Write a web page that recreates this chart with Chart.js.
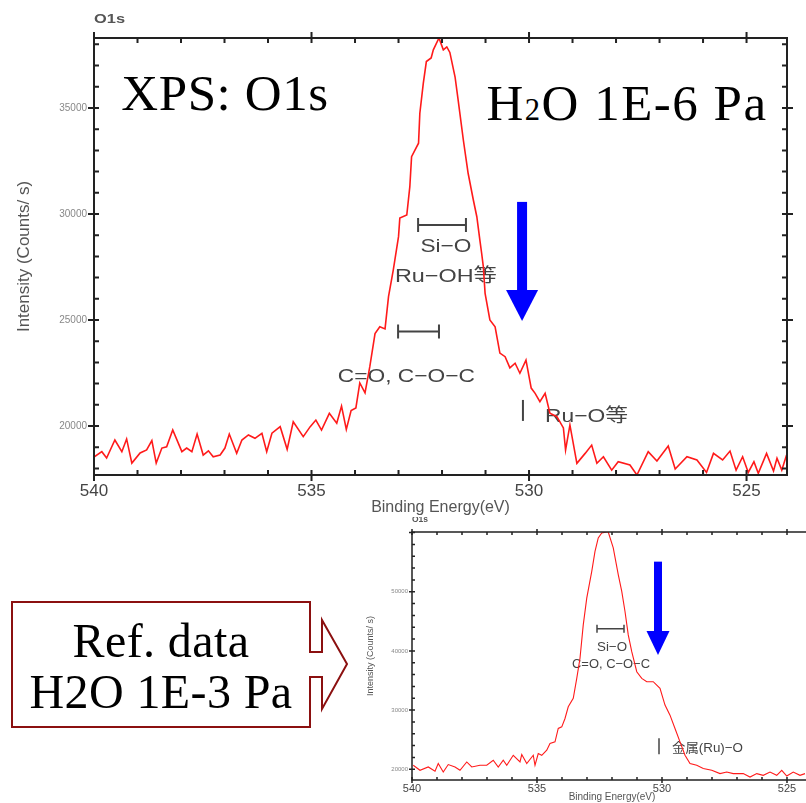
<!DOCTYPE html>
<html lang="ja">
<head>
<meta charset="UTF-8">
<title>XPS: O1s</title>
<script src="https://cdn.jsdelivr.net/npm/chart.js"></script>
<style>
  body {
    margin: 0;
    width: 806px;
    height: 803px;
    overflow: hidden;
    position: relative;
    background: #fff;
  }
  canvas { position: absolute; }
  #mainChart { left: 0; top: 0; }
  #refChart { left: 355px; top: 517px; }
  .tag {
    position: absolute;
    background: #fff;
    font-family: "Liberation Serif", "DejaVu Serif", serif;
    font-size: 51px;
    line-height: 66px;
    height: 62px;
    text-align: center;
    color: #000;
    white-space: nowrap;
  }
  .tag small { font-size: 0.6em; }
  #callout {
    position: absolute;
    left: 0; top: 0;
  }
  #calloutText {
    position: absolute;
    left: 12px; top: 615px; width: 298px;
    text-align: center;
    font-family: "Liberation Serif", "DejaVu Serif", serif;
    font-size: 48px;
    line-height: 51px;
    letter-spacing: 0.4px;
    color: #000;
  }
</style>
</head>
<body>

<canvas id="mainChart" width="806" height="520"></canvas>
<canvas id="refChart" width="465" height="286"></canvas>

<div class="tag" style="left:117px; top:60px; width:216px; letter-spacing:0.6px;">XPS: O1s</div>
<div class="tag" style="left:482px; top:70px; width:290px; letter-spacing:1.5px;">H<small>2</small>O 1E-6 Pa</div>

<svg id="callout" width="806" height="803">
  <polygon points="12,602 310,602 310,652 322,652 322,620 347,664 322,709 322,677 310,677 310,727 12,727"
           fill="#fff" stroke="#8b1010" stroke-width="2"/>
</svg>
<div id="calloutText">Ref. data<br>H2O 1E-3 Pa</div>

<script>
  // main spectrum, H2O 1E-6 Pa
  const mainEnergy = [
    540.0, 539.82, 539.71, 539.52, 539.36, 539.25, 539.13, 538.94, 538.79, 538.67,
    538.57, 538.44, 538.33, 538.19, 537.98, 537.87, 537.75, 537.63, 537.49, 537.37,
    537.26, 537.10, 536.99, 536.89, 536.72, 536.60, 536.45, 536.30, 536.14, 536.03,
    535.91, 535.72, 535.56, 535.42, 535.19, 535.03, 534.90, 534.77, 534.59, 534.42,
    534.31, 534.20, 534.09, 533.98, 533.89, 533.77, 533.66, 533.54, 533.43, 533.31,
    533.23, 533.12, 533.00, 532.97, 532.81, 532.74, 532.70, 532.54, 532.51, 532.43,
    532.36, 532.25, 532.20, 532.07, 531.97, 531.89, 531.82, 531.70, 531.63, 531.51,
    531.40, 531.28, 531.20, 531.13, 531.09, 531.05, 531.01, 530.90, 530.78, 530.67,
    530.55, 530.44, 530.32, 530.21, 530.07, 529.95, 529.86, 529.75, 529.63, 529.52,
    529.36, 529.21, 529.16, 529.06, 528.90, 528.71, 528.56, 528.44, 528.29, 528.10,
    527.95, 527.68, 527.52, 527.26, 527.06, 526.80, 526.64, 526.37, 526.14, 525.92,
    525.76, 525.55, 525.38, 525.24, 525.09, 524.96, 524.83, 524.73, 524.54, 524.38,
    524.30, 524.19, 524.08
  ];
  const mainCounts = [
    18540, 18790, 18490, 19340, 18790, 19390, 18250, 18730, 18870, 19310,
    18250, 18960, 19020, 19810, 18790, 18960, 18790, 19620, 18630, 18830,
    18550, 18630, 18960, 19620, 18710, 19340, 19580, 19420, 19660, 18790,
    19660, 19970, 18900, 20200, 19500, 19970, 20280, 19810, 20600, 20130,
    20940, 19840, 20730, 20850, 22030, 21560, 22800, 24360, 24680, 24580,
    26100, 27360, 28930, 29810, 29950, 31290, 32700, 33340, 34750, 36170,
    37190, 37360, 37740, 38300, 37740, 37880, 37620, 36460, 35380, 33490,
    31920, 30660, 29870, 28770, 28160, 27510, 26260, 25000, 24680, 23440,
    23270, 22740, 22960, 22490, 23110, 21790, 21540, 21150, 21540, 20600,
    20440, 19910, 18870, 20050, 18240, 18710, 19100, 18240, 18550, 17920,
    18320, 18160, 17690, 18790, 18350, 19060, 17970, 18550, 18400, 17810,
    18710, 18400, 18820, 17920, 18550, 17810, 18320, 17770, 18710, 17880,
    18480, 17920, 18630
  ];

  // reference spectrum, H2O 1E-3 Pa
  const refEnergy = [
    539.95, 539.68, 539.35, 539.08, 538.95, 538.75, 538.55, 538.28, 538.08, 537.81,
    537.61, 537.28, 537.01, 536.75, 536.55, 536.35, 536.21, 535.95, 535.68, 535.61,
    535.41, 535.15, 535.08, 534.95, 534.81, 534.61, 534.48, 534.28, 534.15, 534.01,
    533.88, 533.75, 533.55, 533.41, 533.28, 533.15, 533.01, 532.81, 532.68, 532.55,
    532.41, 532.21, 532.15, 531.95, 531.75, 531.61, 531.48, 531.35, 531.21, 531.01,
    530.81, 530.61, 530.35, 530.08, 529.88, 529.68, 529.48, 529.28, 529.08, 528.88,
    528.61, 528.35, 528.01, 527.68, 527.41, 527.15, 526.75, 526.48, 526.21, 525.95,
    525.68, 525.41, 525.21, 525.01, 524.75, 524.48, 524.28
  ];
  const refCounts = [
    20680, 19830, 20390, 19660, 20970, 19540, 20800, 20390, 19830, 21240,
    20390, 20680, 20680, 21530, 20390, 21530, 20680, 22370, 21240, 22490,
    20970, 22370, 20680, 22660, 22370, 23220, 24360, 24630, 26900, 27170,
    28590, 30560, 31980, 35370, 38760, 44410, 48930, 53440, 56830, 59100,
    59950, 60100, 60100, 57410, 52880, 50050, 46660, 42710, 39880, 36490,
    35370, 34800, 34800, 33680, 30850, 29150, 26900, 24630, 22370, 20970,
    20680, 20120, 19830, 19270, 19540, 19270, 19270, 18690, 19270, 18980,
    19540, 18980, 19830, 18860, 19540, 18980, 19270
  ];

  // tick labels
  const energyTicks = [540, 535, 530, 525];
  const mainCountTicks = [20000, 25000, 30000, 35000];
  const refCountTicks = [20000, 30000, 40000, 50000];

  // peak assignments (energy, counts)
  const mainBrackets = [
    { from: 532.55, to: 531.45, at: 29480 },
    { from: 533.01, to: 532.07, at: 24460 }
  ];
  const mainBars = [{ at: 530.14, from: 20240, to: 21230 }];
  const mainLabels = [
    { text: 'Si\u2212O', x: 531.91, y: 28210, width: 51, align: 'center' },
    { text: 'Ru\u2212OH等', x: 531.91, y: 26790, width: 102, align: 'center' },
    { text: 'C=O, C\u2212O\u2212C', x: 532.82, y: 22075, width: 137, align: 'center' },
    { text: 'Ru\u2212O等', x: 529.63, y: 20190, width: 83, align: 'left' }
  ];
  const mainArrow = { x: 530.16, top: 30570, neck: 26415, tip: 24950 };

  const refBrackets = [{ from: 532.6, to: 531.52, at: 43730 }];
  const refBars = [{ at: 530.12, from: 22540, to: 25255 }];
  const refLabels = [
    { text: 'Si\u2212O', x: 532.0, y: 40000, width: 30, align: 'center' },
    { text: 'C=O, C\u2212O\u2212C', x: 532.04, y: 37120, width: 78, align: 'center' },
    { text: '金属(Ru)\u2212O', x: 529.6, y: 22880, width: 71, align: 'left' }
  ];
  const refArrow = { x: 530.16, top: 55090, neck: 43390, tip: 39320 };

  const sans = '"Liberation Sans", "Noto Sans CJK JP", sans-serif';

  // annotations, box frame with minor ticks, corner title
  function decor(o) {
    return {
      id: 'decor',
      beforeDatasetsDraw(chart) {
        const ctx = chart.ctx, xs = chart.scales.x, ys = chart.scales.y;
        ctx.save();
        ctx.strokeStyle = '#444';
        ctx.fillStyle = '#444';
        ctx.lineWidth = o.markWidth;
        o.brackets.forEach(b => {
          const x1 = xs.getPixelForValue(b.from), x2 = xs.getPixelForValue(b.to);
          const y = ys.getPixelForValue(b.at);
          ctx.beginPath();
          ctx.moveTo(x1, y); ctx.lineTo(x2, y);
          ctx.moveTo(x1, y - o.cap); ctx.lineTo(x1, y + o.cap);
          ctx.moveTo(x2, y - o.cap); ctx.lineTo(x2, y + o.cap);
          ctx.stroke();
        });
        o.bars.forEach(b => {
          const x = xs.getPixelForValue(b.at);
          ctx.beginPath();
          ctx.moveTo(x, ys.getPixelForValue(b.from));
          ctx.lineTo(x, ys.getPixelForValue(b.to));
          ctx.stroke();
        });
        ctx.font = o.font;
        ctx.textBaseline = 'alphabetic';
        ctx.textAlign = 'left';
        o.labels.forEach(t => {
          const w = ctx.measureText(t.text).width;
          let x = xs.getPixelForValue(t.x);
          if (t.align === 'center') x -= t.width / 2;
          ctx.save();
          ctx.translate(x, ys.getPixelForValue(t.y));
          ctx.scale(t.width / w, 1);
          ctx.fillText(t.text, 0, 0);
          ctx.restore();
        });
        ctx.restore();
      },
      afterDraw(chart) {
        const ctx = chart.ctx, xs = chart.scales.x, ys = chart.scales.y;
        const a = chart.chartArea;
        ctx.save();
        ctx.strokeStyle = '#222';
        ctx.lineWidth = o.frameWidth;
        ctx.strokeRect(a.left, a.top, a.right - a.left, a.bottom - a.top);
        ctx.beginPath();
        for (let v = Math.ceil(xs.min); v <= xs.max; v += 1) {
          const x = xs.getPixelForValue(v);
          const out = v % 5 === 0 ? o.tickOut : 0;
          ctx.moveTo(x, a.bottom + out); ctx.lineTo(x, a.bottom - o.tickIn);
          ctx.moveTo(x, a.top - out); ctx.lineTo(x, a.top + o.tickIn);
        }
        for (let v = Math.ceil(ys.min / o.yMinor) * o.yMinor; v <= ys.max; v += o.yMinor) {
          const y = ys.getPixelForValue(v);
          const out = v % o.yMajor === 0 ? o.tickOut : 0;
          ctx.moveTo(a.left - out, y); ctx.lineTo(a.left + o.tickIn, y);
          ctx.moveTo(a.right + out, y); ctx.lineTo(a.right - o.tickIn, y);
        }
        ctx.stroke();

        // blue arrow
        const ar = o.arrow;
        const ax = xs.getPixelForValue(ar.x);
        const yt = ys.getPixelForValue(ar.top), yn = ys.getPixelForValue(ar.neck), yp = ys.getPixelForValue(ar.tip);
        ctx.fillStyle = '#0000ff';
        ctx.fillRect(ax - o.shaft / 2, yt, o.shaft, yn - yt + 1);
        ctx.beginPath();
        ctx.moveTo(ax - o.head / 2, yn);
        ctx.lineTo(ax + o.head / 2, yn);
        ctx.lineTo(ax, yp);
        ctx.closePath();
        ctx.fill();

        // corner title
        ctx.fillStyle = '#555';
        ctx.font = o.titleFont;
        ctx.textAlign = 'left';
        const tw = ctx.measureText('O1s').width;
        ctx.translate(a.left, a.top + o.titleDy);
        ctx.scale(o.titleWidth / tw, 1);
        ctx.fillText('O1s', 0, 0);
        ctx.restore();
      }
    };
  }

  function spectrumChart(id, energy, counts, s) {
    return new Chart(document.getElementById(id), {
      type: 'line',
      data: {
        datasets: [{
          data: energy.map((e, i) => ({ x: e, y: counts[i] })),
          borderColor: '#ff1a1a',
          borderWidth: s.lineWidth,
          pointRadius: 0,
          tension: 0,
          fill: false
        }]
      },
      options: {
        responsive: false,
        animation: false,
        devicePixelRatio: 1,
        layout: { padding: s.padding },
        plugins: { legend: { display: false }, tooltip: { enabled: false } },
        scales: {
          x: {
            type: 'linear',
            reverse: true,
            min: s.xMin,
            max: 540,
            grid: { display: false, drawTicks: false },
            border: { display: false },
            afterBuildTicks: sc => { sc.ticks = energyTicks.map(v => ({ value: v })); },
            ticks: {
              maxRotation: 0,
              autoSkip: false,
              padding: s.xPad,
              color: '#444',
              font: { family: sans, size: s.xFont },
              callback: v => String(v)
            },
            title: {
              display: true,
              text: 'Binding Energy(eV)',
              color: '#555',
              padding: { top: 0, bottom: s.xTitlePad },
              font: { family: sans, size: s.xTitleFont }
            },
            afterFit: sc => { sc.height = s.xHeight; }
          },
          y: {
            type: 'linear',
            min: s.yMin,
            max: s.yMax,
            grid: { display: false, drawTicks: false },
            border: { display: false },
            afterBuildTicks: sc => { sc.ticks = s.yTicks.map(v => ({ value: v })); },
            ticks: {
              autoSkip: false,
              padding: s.yPad,
              color: '#888',
              font: { family: sans, size: s.yFont },
              callback: v => String(v)
            },
            title: {
              display: true,
              text: 'Intensity (Counts/ s)',
              color: '#555',
              padding: { top: s.yTitlePad, bottom: 0 },
              font: { family: sans, size: s.yTitleFont }
            },
            afterFit: sc => { sc.width = s.yWidth; }
          }
        }
      },
      plugins: [decor(s.decor)]
    });
  }

  spectrumChart('mainChart', mainEnergy, mainCounts, {
    lineWidth: 1.6,
    padding: { left: 0, top: 38, right: 19, bottom: 0 },
    xMin: 524.07, yMin: 17690, yMax: 38300, yTicks: mainCountTicks,
    xPad: 6, xFont: 17, xTitlePad: 3, xTitleFont: 16, xHeight: 45,
    yPad: 7, yFont: 10, yTitlePad: 14, yTitleFont: 17, yWidth: 94,
    decor: {
      brackets: mainBrackets, bars: mainBars, labels: mainLabels, arrow: mainArrow,
      font: '19px ' + sans, markWidth: 2, cap: 7,
      frameWidth: 2, tickIn: 5, tickOut: 6, yMinor: 1000, yMajor: 5000,
      shaft: 10, head: 32,
      titleFont: 'bold 13px ' + sans, titleDy: -15, titleWidth: 31
    }
  });

  spectrumChart('refChart', refEnergy, refCounts, {
    lineWidth: 1.1,
    padding: { left: 0, top: 15, right: 8, bottom: 0 },
    xMin: 524, yMin: 18190, yMax: 60100, yTicks: refCountTicks,
    xPad: 2, xFont: 11, xTitlePad: 0, xTitleFont: 10, xHeight: 23,
    yPad: 4, yFont: 6, yTitlePad: 10, yTitleFont: 9, yWidth: 57,
    decor: {
      brackets: refBrackets, bars: refBars, labels: refLabels, arrow: refArrow,
      font: '13px ' + sans, markWidth: 1.5, cap: 4,
      frameWidth: 1.5, tickIn: 3, tickOut: 3, yMinor: 2000, yMajor: 10000,
      shaft: 8, head: 23,
      titleFont: 'bold 9px ' + sans, titleDy: -10, titleWidth: 16
    }
  });
</script>

</body>
</html>
